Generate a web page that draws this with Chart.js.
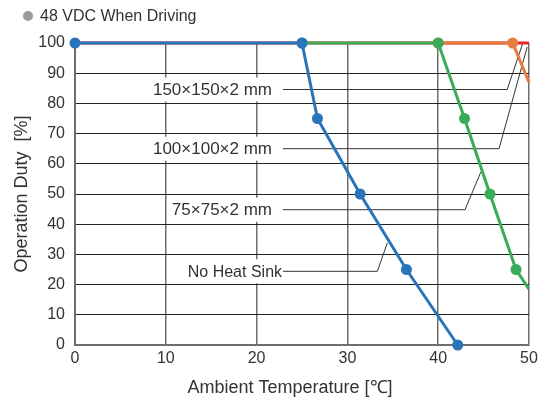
<!DOCTYPE html>
<html>
<head>
<meta charset="utf-8">
<script src="https://cdn.jsdelivr.net/npm/chart.js@4"></script>
<style>
  html, body { margin: 0; padding: 0; background: #fff; }
  #wrap { width: 542px; height: 402px; }
</style>
</head>
<body>
<div id="wrap"><canvas id="dutyChart" width="542" height="402"></canvas></div>
<script>
// ----------- DATA (temperature [°C], duty [%]) -----------
const noSinkTemp = [0, 25, 26.7, 31.4, 36.5, 42.15];
const noSinkDuty = [100, 100, 75, 50, 25, 0];

const sink75Temp = [25, 40, 42.9, 45.7, 48.57, 50];
const sink75Duty = [100, 100, 75, 50, 25, 18.5];

const sink100Temp = [40, 48.2, 50];
const sink100Duty = [100, 100, 87];

const sink150Temp = [0, 50];
const sink150Duty = [100, 100];

const xTicks = [0, 10, 20, 30, 40, 50];
const yTicks = [0, 10, 20, 30, 40, 50, 60, 70, 80, 90, 100];

const FONT = "'Liberation Sans', Arial, sans-serif";
const TEXT = "#333";

function pts(xs, ys) {
  return xs.map((x, i) => ({ x: x, y: ys[i] }));
}

// callouts: label position and leader path, in chart units
const callouts = [
  { text: "150×150×2 mm", size: 17, at: [21.7, 84.6], path: [[22.9, 84.6], [47.6, 84.6], [49.3, 99.8]] },
  { text: "100×100×2 mm", size: 17, at: [21.7, 65.0], path: [[22.9, 65.0], [46.7, 65.0], [49.8, 98.7]] },
  { text: "75×75×2 mm", size: 17, at: [21.7, 44.8], path: [[22.9, 44.8], [42.95, 44.8], [44.7, 57.3]] },
  { text: "No Heat Sink", size: 16, at: [22.8, 24.4], path: [[22.9, 24.4], [33.3, 24.4], [34.4, 33.8]] }
];

const decorPlugin = {
  id: "decor",
  beforeDatasetsDraw(chart) {
    const { ctx, scales: { x, y } } = chart;
    ctx.save();
    callouts.forEach(c => {
      ctx.font = c.size + "px " + FONT;
      const tx = x.getPixelForValue(c.at[0]);
      const ty = y.getPixelForValue(c.at[1]);
      const w = ctx.measureText(c.text).width;
      ctx.fillStyle = "#fff";
      ctx.fillRect(tx - w - 4, ty - 12, w + 8, 24);
      ctx.fillStyle = TEXT;
      ctx.textAlign = "right";
      ctx.textBaseline = "middle";
      ctx.fillText(c.text, tx, ty + 1);
      ctx.beginPath();
      c.path.forEach((p, i) => {
        const px = x.getPixelForValue(p[0]);
        const py = y.getPixelForValue(p[1]);
        if (i === 0) ctx.moveTo(px, py); else ctx.lineTo(px, py);
      });
      ctx.strokeStyle = "#333";
      ctx.lineWidth = 1;
      ctx.stroke();
    });
    ctx.restore();
  },
  afterDraw(chart) {
    const { ctx, chartArea } = chart;
    ctx.save();
    // heading with bullet
    ctx.fillStyle = "#9a9a9a";
    ctx.beginPath();
    ctx.arc(28, 16, 5, 0, Math.PI * 2);
    ctx.fill();
    ctx.fillStyle = TEXT;
    ctx.font = "16px " + FONT;
    ctx.textAlign = "left";
    ctx.textBaseline = "middle";
    ctx.fillText("48 VDC When Driving", 40, 17);
    // axis titles
    ctx.font = "18px " + FONT;
    ctx.textAlign = "center";
    ctx.fillText("Ambient Temperature [℃]", (chartArea.left + chartArea.right) / 2 - 12, 388);
    ctx.translate(22, (chartArea.top + chartArea.bottom) / 2);
    ctx.rotate(-Math.PI / 2);
    ctx.fillText("Operation Duty  [%]", 0, 0);
    ctx.restore();
  }
};

const markerRadius = ctx => (ctx.raw && ctx.raw.x < 50 ? 5.5 : 0);

new Chart(document.getElementById("dutyChart").getContext("2d"), {
  type: "scatter",
  data: {
    datasets: [
      { label: "No Heat Sink", data: pts(noSinkTemp, noSinkDuty), borderColor: "#2a74ba", backgroundColor: "#2a74ba" },
      { label: "75×75×2 mm", data: pts(sink75Temp, sink75Duty), borderColor: "#3aab58", backgroundColor: "#3aab58" },
      { label: "100×100×2 mm", data: pts(sink100Temp, sink100Duty), borderColor: "#e87b3e", backgroundColor: "#e87b3e" },
      { label: "150×150×2 mm", data: pts(sink150Temp, sink150Duty), borderColor: "#e8262d", backgroundColor: "#e8262d", pointRadius: 0 }
    ]
  },
  options: {
    responsive: false,
    animation: false,
    layout: { padding: { top: 43, right: 13, left: 0, bottom: 0 } },
    datasets: {
      scatter: {
        showLine: true,
        borderWidth: 3,
        pointRadius: markerRadius,
        pointHoverRadius: markerRadius,
        pointBorderWidth: 0,
        clip: false
      }
    },
    plugins: { legend: { display: false }, tooltip: { enabled: false } },
    scales: {
      x: {
        type: "linear",
        min: 0,
        max: 50,
        afterFit: s => { s.height = 57; },
        afterBuildTicks: s => { s.ticks = xTicks.map(v => ({ value: v })); },
        grid: { color: "#6e6e6e", lineWidth: 1.5, drawTicks: false },
        border: { color: "#6e6e6e", width: 2 },
        ticks: { color: TEXT, padding: 4, font: { family: FONT, size: 16 } }
      },
      y: {
        type: "linear",
        min: 0,
        max: 100,
        afterFit: s => { s.width = 75; },
        afterBuildTicks: s => { s.ticks = yTicks.map(v => ({ value: v })); },
        grid: { color: "#222", lineWidth: 1, drawTicks: false },
        border: { color: "#6e6e6e", width: 2 },
        ticks: { color: TEXT, padding: 10, font: { family: FONT, size: 16 } }
      }
    }
  },
  plugins: [decorPlugin]
});
</script>
</body>
</html>
